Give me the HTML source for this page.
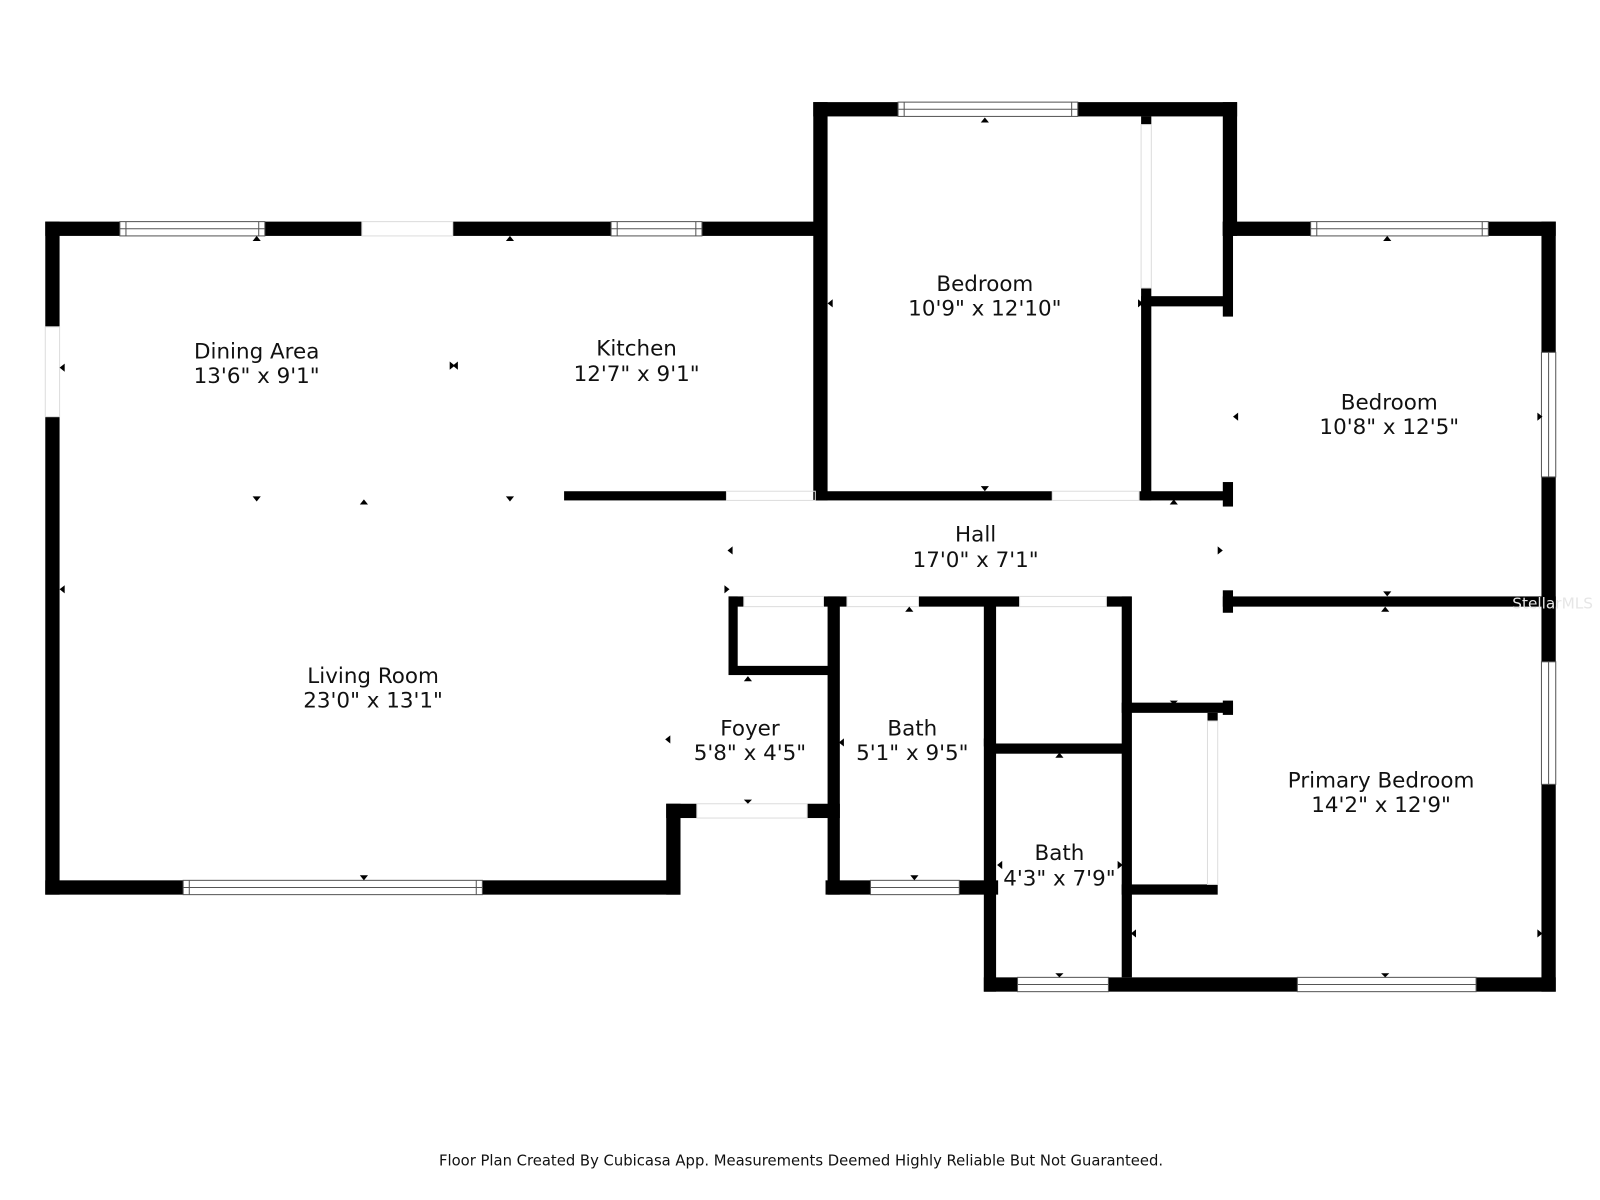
<!DOCTYPE html>
<html><head><style>
html,body{margin:0;padding:0;background:#fff;}
svg{display:block;}
text{font-family:"DejaVu Sans","Liberation Sans",sans-serif;fill:#111;}
</style></head><body>
<svg width="1600" height="1200" viewBox="0 0 1566 1175" xmlns="http://www.w3.org/2000/svg">
<rect width="1566" height="1175" fill="#fff"/>
<g fill="#000">
<rect x="44" y="217" width="14" height="103"/>
<rect x="44" y="408" width="14" height="468"/>
<rect x="44" y="217" width="310" height="14"/>
<rect x="443" y="217" width="359" height="14"/>
<rect x="796" y="100" width="14" height="390"/>
<rect x="796" y="100" width="415" height="14"/>
<rect x="1197" y="100" width="14" height="131"/>
<rect x="1197" y="217" width="326" height="14"/>
<rect x="1509" y="217" width="14" height="754"/>
<rect x="963" y="957" width="560" height="14"/>
<rect x="963" y="590" width="12" height="381"/>
<rect x="808" y="862" width="169" height="14"/>
<rect x="810" y="584" width="12" height="292"/>
<rect x="652" y="787" width="30" height="14"/>
<rect x="790" y="787" width="32" height="14"/>
<rect x="652" y="787" width="14" height="89"/>
<rect x="44" y="862" width="622" height="14"/>
<rect x="552" y="481" width="159" height="9"/>
<rect x="798" y="481" width="232" height="9"/>
<rect x="1115" y="481" width="85" height="9"/>
<rect x="1117" y="282" width="10" height="208"/>
<rect x="1117" y="114" width="10" height="8"/>
<rect x="1117" y="290" width="83" height="10"/>
<rect x="1197" y="217" width="10" height="93"/>
<rect x="1197" y="472" width="10" height="24"/>
<rect x="1197" y="578" width="10" height="22"/>
<rect x="1197" y="686" width="10" height="14"/>
<rect x="1197" y="584" width="326" height="10"/>
<rect x="713" y="584" width="15" height="10"/>
<rect x="806" y="584" width="23" height="10"/>
<rect x="899" y="584" width="99" height="10"/>
<rect x="1083" y="584" width="24" height="10"/>
<rect x="713" y="584" width="9" height="76"/>
<rect x="713" y="652" width="102" height="9"/>
<rect x="965" y="728" width="142" height="10"/>
<rect x="1098" y="584" width="10" height="373"/>
<rect x="1098" y="688" width="109" height="10"/>
<rect x="1182" y="698" width="10" height="8"/>
<rect x="1098" y="866" width="94" height="10"/>
</g>
<g fill="#fff" stroke="#555" stroke-width="1">
<rect x="117" y="217" width="142" height="14"/><line x1="117" y1="224" x2="259" y2="224"/><line x1="123" y1="217" x2="123" y2="231"/><line x1="253" y1="217" x2="253" y2="231"/>
<rect x="598" y="217" width="89" height="14"/><line x1="598" y1="224" x2="687" y2="224"/><line x1="604" y1="217" x2="604" y2="231"/><line x1="681" y1="217" x2="681" y2="231"/>
<rect x="879" y="100" width="176" height="14"/><line x1="879" y1="107" x2="1055" y2="107"/><line x1="885" y1="100" x2="885" y2="114"/><line x1="1049" y1="100" x2="1049" y2="114"/>
<rect x="1283" y="217" width="174" height="14"/><line x1="1283" y1="224" x2="1457" y2="224"/><line x1="1289" y1="217" x2="1289" y2="231"/><line x1="1451" y1="217" x2="1451" y2="231"/>
<rect x="1509" y="345" width="14" height="122"/><line x1="1516" y1="345" x2="1516" y2="467"/>
<rect x="1509" y="648" width="14" height="120"/><line x1="1516" y1="648" x2="1516" y2="768"/>
<rect x="179" y="862" width="293" height="14"/><line x1="179" y1="869" x2="472" y2="869"/><line x1="185" y1="862" x2="185" y2="876"/><line x1="466" y1="862" x2="466" y2="876"/>
<rect x="852" y="862" width="87" height="14"/><line x1="852" y1="869" x2="939" y2="869"/>
<rect x="996" y="957" width="89" height="14"/><line x1="996" y1="964" x2="1085" y2="964"/>
<rect x="1270" y="957" width="175" height="14"/><line x1="1270" y1="964" x2="1445" y2="964"/>
</g>
<g fill="none" stroke="#ddd" stroke-width="1">
<rect x="711" y="481" width="87" height="9"/>
<rect x="1030" y="481" width="85" height="9"/>
<rect x="728" y="584" width="78" height="10"/>
<rect x="829" y="584" width="70" height="10"/>
<rect x="998" y="584" width="85" height="10"/>
<rect x="682" y="787" width="108" height="14"/>
<rect x="1117" y="122" width="10" height="160"/>
<rect x="1182" y="706" width="10" height="160"/>
<rect x="44" y="320" width="14" height="88"/>
<rect x="354" y="217" width="89" height="14"/>
</g>
<g fill="#000">
<polygon points="247,236 255,236 251,231"/>
<polygon points="495,236 503,236 499,231"/>
<polygon points="960,120 968,120 964,115"/>
<polygon points="1354,236 1362,236 1358,231"/>
<polygon points="247,486 255,486 251,491"/>
<polygon points="352,494 360,494 356,489"/>
<polygon points="495,486 503,486 499,491"/>
<polygon points="960,476 968,476 964,481"/>
<polygon points="1145,494 1153,494 1149,489"/>
<polygon points="1354,579 1362,579 1358,584"/>
<polygon points="1352,599 1360,599 1356,594"/>
<polygon points="352,857 360,857 356,862"/>
<polygon points="728,667 736,667 732,662"/>
<polygon points="728,783 736,783 732,787"/>
<polygon points="886,599 894,599 890,594"/>
<polygon points="891,857 899,857 895,862"/>
<polygon points="1033,742 1041,742 1037,737"/>
<polygon points="1033,953 1041,953 1037,957"/>
<polygon points="1145,686 1153,686 1149,690"/>
<polygon points="1352,953 1360,953 1356,957"/>
<polygon points="63,356 63,364 58,360"/>
<polygon points="63,573 63,581 58,577"/>
<polygon points="440,354 440,362 445,358"/>
<polygon points="448,354 448,362 443,358"/>
<polygon points="797,352 797,360 802,356"/>
<polygon points="815,293 815,301 810,297"/>
<polygon points="1114,293 1114,301 1119,297"/>
<polygon points="1212,404 1212,412 1207,408"/>
<polygon points="1505,404 1505,412 1510,408"/>
<polygon points="717,535 717,543 712,539"/>
<polygon points="1192,535 1192,543 1197,539"/>
<polygon points="709,573 709,581 714,577"/>
<polygon points="656,720 656,728 651,724"/>
<polygon points="826,723 826,731 821,727"/>
<polygon points="963,723 963,731 968,727"/>
<polygon points="981,843 981,851 976,847"/>
<polygon points="1094,843 1094,851 1099,847"/>
<polygon points="1112,910 1112,918 1107,914"/>
<polygon points="1505,910 1505,918 1510,914"/>
</g>
<g font-size="21" text-anchor="middle">
<text x="251" y="351">Dining Area</text><text x="251" y="375">13'6" x 9'1"</text>
<text x="623" y="348">Kitchen</text><text x="623" y="373">12'7" x 9'1"</text>
<text x="964" y="285">Bedroom</text><text x="964" y="309">10'9" x 12'10"</text>
<text x="1360" y="401">Bedroom</text><text x="1360" y="425">10'8" x 12'5"</text>
<text x="955" y="530">Hall</text><text x="955" y="555">17'0" x 7'1"</text>
<text x="365" y="669">Living Room</text><text x="365" y="693">23'0" x 13'1"</text>
<text x="734" y="720">Foyer</text><text x="734" y="744">5'8" x 4'5"</text>
<text x="893" y="720">Bath</text><text x="893" y="744">5'1" x 9'5"</text>
<text x="1037" y="842">Bath</text><text x="1037" y="867">4'3" x 7'9"</text>
<text x="1352" y="771">Primary Bedroom</text><text x="1352" y="795">14'2" x 12'9"</text>
</g>
<text x="1520" y="596" font-size="15" text-anchor="middle" style="fill:#e6e6e6">StellarMLS</text>
<text x="784" y="1141" font-size="14.5" text-anchor="middle">Floor Plan Created By Cubicasa App. Measurements Deemed Highly Reliable But Not Guaranteed.</text>
</svg>
</body></html>
